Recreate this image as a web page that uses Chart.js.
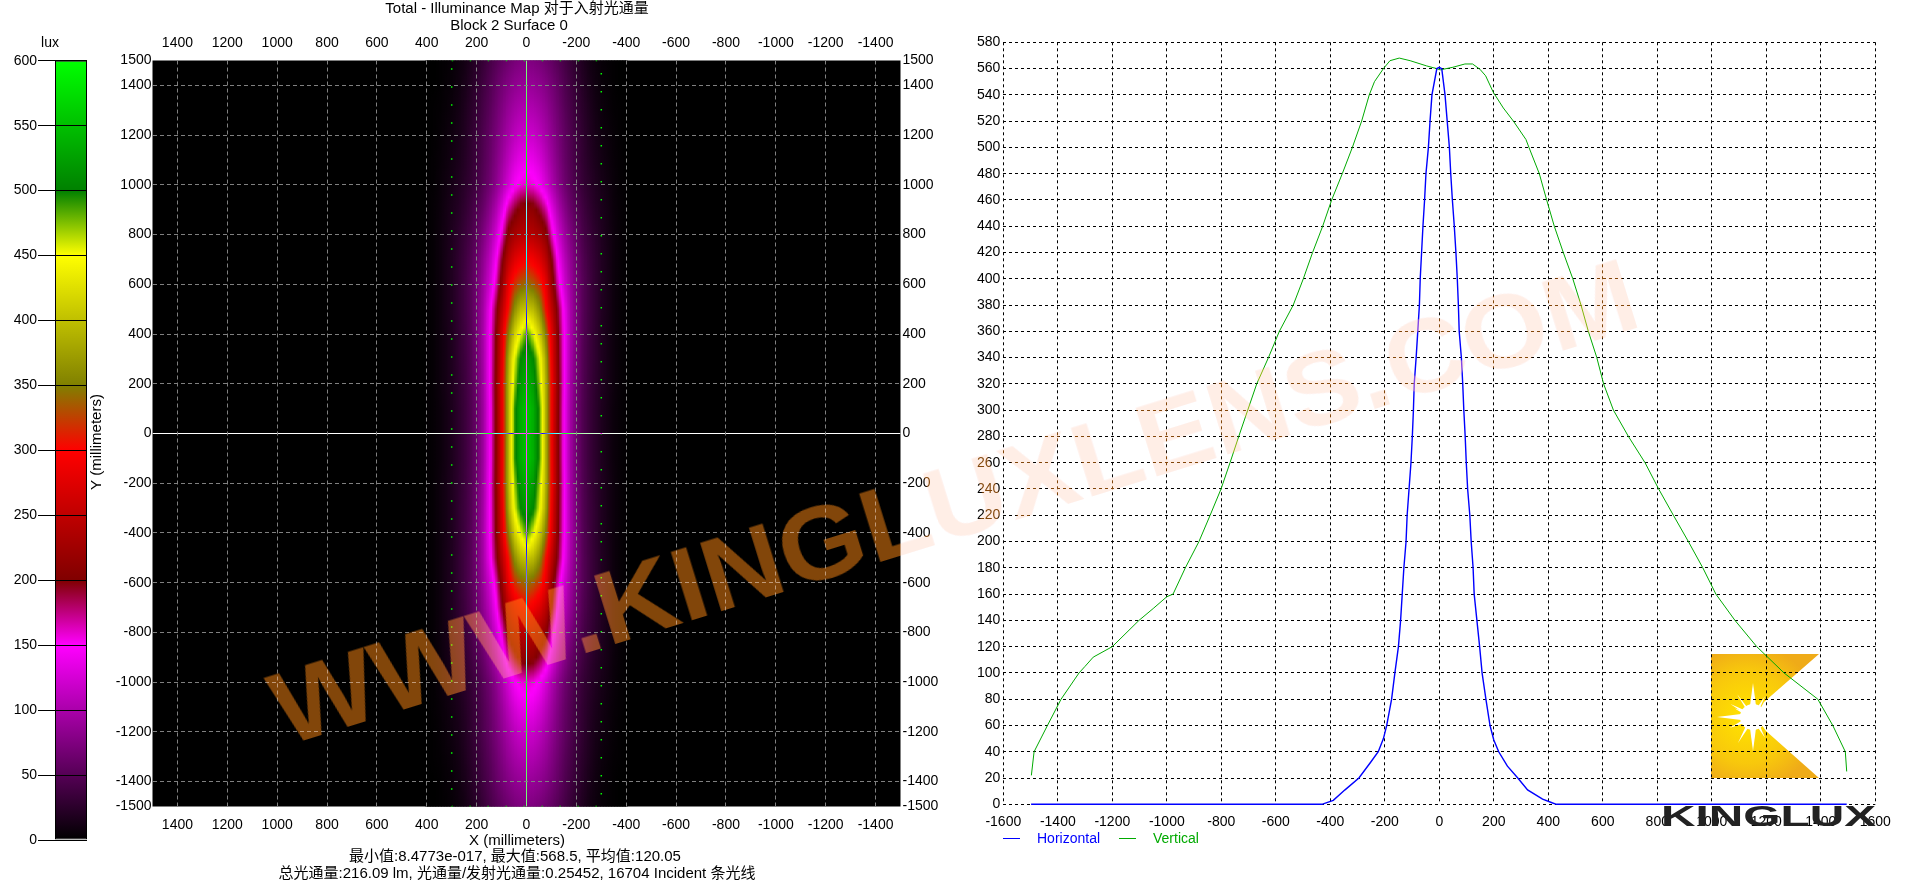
<!DOCTYPE html>
<html>
<head>
<meta charset="utf-8">
<title>Illuminance Map</title>
<script src="https://cdn.jsdelivr.net/npm/chart.js@4/dist/chart.umd.min.js"></script>
<style>
html, body { margin: 0; padding: 0; background: #fff; overflow: hidden; }
#page { position: relative; width: 1916px; height: 882px; background: #fff; isolation: isolate; overflow: hidden; }
#page canvas { position: absolute; left: 0; top: 0; }
.watermark {
    position: absolute; left: 954px; top: 502px; white-space: nowrap;
    font: bold 103px "Liberation Sans", sans-serif; line-height: 1;
    transform: translate(-50%, -50%) rotate(-17.2deg) scaleX(1.077);
}
#wmMultiply { color: rgb(255, 232, 229); mix-blend-mode: multiply; }
#wmScreen { color: rgb(130, 70, 10); mix-blend-mode: screen; }
</style>
</head>
<body>
<div id="page">
    <canvas id="legendBar" width="1916" height="882"></canvas>
    <canvas id="mapChart" width="1916" height="882"></canvas>
    <canvas id="lineChart" width="1916" height="882"></canvas>
    <div class="watermark" id="wmMultiply">WWW.KINGLUXLENS.COM</div>
    <div class="watermark" id="wmScreen">WWW.KINGLUXLENS.COM</div>
</div>
<script>
// colour scale (lux)
const scaleLux = [0, 150, 200, 300, 350, 450, 500, 600];
const scaleRgb = [[0,0,0], [255,0,255], [128,0,0], [255,0,0], [128,128,0], [255,255,0], [0,128,0], [0,255,0]];
const scaleTicks = [0, 50, 100, 150, 200, 250, 300, 350, 400, 450, 500, 550, 600];

// illuminance, one quadrant: rows = |Y|, columns = |X| (mm)
const heatX = [0, 25, 50, 75, 100, 125, 150, 175, 200, 225, 250, 275, 300, 325, 350, 375, 400];
const heatY = [0, 100, 200, 300, 400, 500, 600, 700, 800, 900, 1000, 1100, 1200, 1300, 1400, 1500];
const heatLux = [
    [555, 535, 490, 390, 285, 205, 142, 94, 64, 46, 34, 25, 17, 11, 6, 3, 1],
    [555, 536, 490, 390, 286, 206, 142, 94, 64, 46, 34, 25, 17, 11, 6, 3, 1],
    [540, 522, 470, 390, 288, 208, 145, 96, 66, 47, 35, 26, 18, 12, 7, 3, 1],
    [525, 505, 455, 380, 280, 204, 145, 98, 68, 48, 36, 27, 18, 12, 7, 3, 1],
    [490, 455, 412, 350, 272, 200, 145, 100, 70, 49, 37, 27, 18, 12, 7, 3, 1],
    [405, 395, 362, 305, 246, 190, 140, 98, 70, 50, 38, 28, 19, 13, 7, 3, 1],
    [345, 335, 318, 282, 218, 162, 122, 92, 67, 50, 38, 28, 19, 13, 7, 3, 1],
    [298, 290, 274, 246, 196, 144, 110, 85, 63, 47, 36, 27, 19, 13, 7, 3, 1],
    [245, 240, 230, 210, 160, 122, 95, 74, 56, 42, 33, 25, 18, 12, 7, 3, 1],
    [215, 210, 192, 170, 132, 102, 80, 62, 48, 37, 28, 21, 16, 11, 6, 3, 1],
    [160, 156, 145, 125, 102, 82, 65, 52, 40, 31, 24, 18, 13, 9, 5, 2, 1],
    [140, 136, 126, 110, 92, 75, 60, 48, 37, 28, 21, 15, 11, 7, 4, 2, 0],
    [120, 118, 110, 98, 84, 70, 57, 46, 36, 27, 19, 13, 9, 6, 3, 1, 0],
    [105, 103, 97, 88, 76, 64, 52, 42, 32, 24, 17, 11, 7, 4, 2, 1, 0],
    [90, 88, 84, 77, 68, 58, 47, 38, 29, 21, 14, 9, 5, 3, 1, 0, 0],
    [75, 74, 70, 64, 57, 49, 41, 32, 24, 17, 11, 7, 4, 2, 1, 0, 0]
];

const mapXTicks = [1400, 1200, 1000, 800, 600, 400, 200, 0, -200, -400, -600, -800, -1000, -1200, -1400];
const mapYTicks = [1500, 1400, 1200, 1000, 800, 600, 400, 200, 0, -200, -400, -600, -800, -1000, -1200, -1400, -1500];

// receiver outline and centre lines on the map
const boxX = [300, -300, -300, 300, 300];
const boxY = [1500, 1500, -1500, -1500, 1500];
const crossXLine = [0, 0];
const crossYLine = [-1500, 1500];

// profile curves
const horizontalX = [-1498, -431, -389, -346, -295, -252, -224, -205, -193, -175, -163, -150, -142, -130, -122, -118, -111, -104, -99, -95, -92, -85, -79, -73, -70, -65, -60, -54, -49, -40, -34, -27, -9, 0,
    9, 21, 29, 37, 42, 48, 55, 61, 66, 70, 73, 81, 86, 90, 95, 99, 104, 112, 117, 124, 128, 138, 148, 157, 171, 186, 200, 218, 250, 288, 324, 379, 416, 430, 1495];
const horizontalLux = [0, 0, 3, 11, 20, 32, 40, 50, 60, 80, 100, 120, 140, 180, 200, 220, 240, 260, 280, 300, 320, 340, 360, 380, 400, 420, 440, 460, 480, 500, 520, 540, 560, 561,
    560, 540, 520, 500, 480, 460, 440, 420, 400, 380, 360, 340, 320, 300, 280, 260, 240, 220, 200, 180, 160, 140, 120, 100, 80, 60, 49, 40, 29, 20, 11, 4, 1, 0, 0];
const verticalX = [-1497, -1487, -1438, -1388, -1322, -1300, -1270, -1200, -1102, -1050, -1000, -977, -932, -882, -841, -801, -768, -736, -703, -670, -627, -587, -536, -499, -465, -428, -395, -356, -319, -285, -257, -238, -205, -181, -147, -107, -46, -10, 3,
    50, 94, 122, 149, 170, 198, 235, 272, 318, 329, 367, 394, 422, 455, 490, 520, 547, 578, 603, 639, 694, 755, 805, 859, 914, 967, 1015, 1085, 1165, 1265, 1389, 1444, 1490, 1495];
const verticalLux = [22, 40, 60, 80, 100, 105, 112, 120, 140, 149, 158, 160, 180, 200, 220, 240, 260, 280, 300, 320, 340, 360, 380, 400, 420, 440, 460, 480, 500, 520, 540, 550, 560, 566, 568, 566, 562, 560, 559,
    561, 563.5, 563.5, 559.5, 554.5, 542, 530, 520, 506, 500, 480, 460, 440, 420, 400, 380, 360, 340, 320, 300, 280, 260, 240, 220, 200, 180, 160, 140, 120, 100, 80, 60, 40, 25];
const profileXTicks = [-1600, -1400, -1200, -1000, -800, -600, -400, -200, 0, 200, 400, 600, 800, 1000, 1200, 1400, 1600];
const seriesNames = ['Horizontal', 'Vertical'];

const FONT = '"Liberation Sans", "Noto Sans CJK SC", sans-serif';
const tickFont = { family: FONT, size: 14 };

Chart.defaults.color = '#000';
Chart.defaults.animation = false;
Chart.defaults.responsive = false;

const colorFor = (v) => {
    let i = 0;
    while (i < scaleLux.length - 2 && v > scaleLux[i + 1]) i++;
    const t = Math.min(1, Math.max(0, (v - scaleLux[i]) / (scaleLux[i + 1] - scaleLux[i])));
    const a = scaleRgb[i], b = scaleRgb[i + 1];
    return `rgb(${a.map((c, k) => Math.round(c + (b[k] - c) * t)).join(',')})`;
};

// shading between the sampled cells
const findCell = (list, v) => {
    let i = 0;
    while (i < list.length - 2 && v > list[i + 1]) i++;
    return [i, Math.min(1, (v - list[i]) / (list[i + 1] - list[i]))];
};
const shadeAt = (x, y) => {
    const [c, tx] = findCell(heatX, Math.abs(x));
    const [r, ty] = findCell(heatY, Math.abs(y));
    const top = heatLux[r][c] + (heatLux[r][c + 1] - heatLux[r][c]) * tx;
    const low = heatLux[r + 1][c] + (heatLux[r + 1][c + 1] - heatLux[r + 1][c]) * tx;
    return top + (low - top) * ty;
};

// axis boxes have a fixed size so the plot areas land where padding says
const boxWidth = (w) => (scale) => { scale.width = w; };
const boxHeight = (h) => (scale) => { scale.height = h; };
const fixedTicks = (list) => (scale) => { scale.ticks = list.map(value => ({ value })); };
const plainLabel = (v) => `${v}`;
// no grid line under the centre cross or on the plot edge
const mapGridColor = (ctx) => (ctx.tick && (ctx.tick.value === 0 || Math.abs(ctx.tick.value) === 1500)) ? 'transparent' : '#808080';

// ---- colour bar ----
new Chart(document.getElementById('legendBar'), {
    type: 'bar',
    data: {
        labels: ['lux'],
        datasets: [{
            data: [[0, 600]],
            borderColor: '#000',
            borderWidth: 1,
            borderSkipped: false,
            barPercentage: 1,
            categoryPercentage: 1,
            inflateAmount: 0,
            backgroundColor: (ctx) => {
                const sy = ctx.chart.scales.y;
                const y0 = sy.getPixelForValue(0), y1 = sy.getPixelForValue(600);
                if (!isFinite(y0) || !isFinite(y1)) return '#000';
                const g = ctx.chart.ctx.createLinearGradient(0, y0, 0, y1);
                scaleLux.forEach(v => g.addColorStop(v / 600, colorFor(v)));
                return g;
            }
        }]
    },
    options: {
        layout: { padding: { left: 0, top: 60.7, right: 1829, bottom: 42 } },
        plugins: {
            legend: { display: false },
            tooltip: { enabled: false }
        },
        scales: {
            x: { display: false },
            y: {
                min: 0, max: 600,
                afterFit: boxWidth(55),
                afterBuildTicks: fixedTicks(scaleTicks),
                border: { display: false },
                grid: { color: '#000', z: 1, tickLength: 17, tickColor: '#000' },
                ticks: { font: tickFont, padding: 1, autoSkip: false, callback: plainLabel }
            }
        }
    },
    plugins: [{
        id: 'luxCaption',
        afterDraw(chart) {
            const c = chart.ctx;
            c.save();
            c.font = `14px ${FONT}`;
            c.fillStyle = '#000';
            c.textAlign = 'center';
            c.textBaseline = 'middle';
            c.fillText('lux', 50, 43);
            c.restore();
        }
    }]
});

// ---- illuminance map ----
const shadeColumns = [];
for (let x = -400; x <= 400; x += 6.25) shadeColumns.push(x);

const mapCaptions = [
    ['Total - Illuminance Map 对于入射光通量', 517, 9],
    ['Block 2 Surface 0', 509, 26],
    ['X (millimeters)', 517, 841],
    ['最小值:8.4773e-017, 最大值:568.5, 平均值:120.05', 515, 857],
    ['总光通量:216.09 lm, 光通量/发射光通量:0.25452, 16704 Incident 条光线', 517, 874]
];

new Chart(document.getElementById('mapChart'), {
    type: 'bar',
    data: {
        datasets: [
            {
                type: 'line', blend: true, data: crossXLine.map((x, i) => ({ x, y: crossYLine[i] })),
                borderColor: '#fff', borderWidth: 1, pointRadius: 0, order: 0
            },
            {
                type: 'line', blend: true, data: crossYLine.map((x, i) => ({ x, y: crossXLine[i] })),
                borderColor: '#fff', borderWidth: 1, pointRadius: 0, order: 0
            },
            {
                type: 'line', data: boxX.map((x, i) => ({ x, y: boxY[i] })),
                borderColor: '#00ff00', borderWidth: 1.5, borderDash: [1.5, 16.5], pointRadius: 0, order: 1
            },
            {
                type: 'bar', order: 2,
                data: shadeColumns.map(x => ({ x, y: [-1500, 1500] })),
                barPercentage: 1, categoryPercentage: 1, grouped: false,
                borderWidth: 0, inflateAmount: 0.6,
                backgroundColor: (ctx) => {
                    const raw = ctx.raw;
                    if (!raw) return '#000';
                    const sy = ctx.chart.scales.y;
                    const y0 = sy.getPixelForValue(1500), y1 = sy.getPixelForValue(-1500);
                    if (!isFinite(y0) || !isFinite(y1)) return '#000';
                    const g = ctx.chart.ctx.createLinearGradient(0, y0, 0, y1);
                    for (let y = 1500; y >= -1500; y -= 25) g.addColorStop((1500 - y) / 3000, colorFor(shadeAt(raw.x, y)));
                    return g;
                }
            }
        ]
    },
    options: {
        layout: { padding: { left: 92.5, top: 30.5, right: 975.5, bottom: 45.5 } },
        plugins: {
            legend: { display: false },
            tooltip: { enabled: false }
        },
        scales: {
            x: {
                type: 'linear', position: 'bottom', reverse: true, min: -1500, max: 1500, offset: false,
                afterFit: boxHeight(30), afterBuildTicks: fixedTicks(mapXTicks),
                border: { display: false, dash: [4, 3] },
                grid: { color: mapGridColor, offset: false, z: 1, drawTicks: false },
                ticks: { font: tickFont, padding: 10, maxRotation: 0, autoSkip: false, callback: plainLabel }
            },
            xTop: {
                type: 'linear', axis: 'x', position: 'top', reverse: true, min: -1500, max: 1500, offset: false,
                afterFit: boxHeight(30), afterBuildTicks: fixedTicks(mapXTicks),
                border: { display: false },
                grid: { display: false, offset: false, drawTicks: false },
                ticks: { font: tickFont, padding: 9, maxRotation: 0, autoSkip: false, callback: plainLabel }
            },
            y: {
                type: 'linear', position: 'left', min: -1500, max: 1500,
                afterFit: boxWidth(60), afterBuildTicks: fixedTicks(mapYTicks),
                border: { display: false, dash: [4, 3] },
                grid: { color: mapGridColor, z: 1, drawTicks: false },
                ticks: { font: tickFont, padding: 1, autoSkip: false, callback: plainLabel }
            },
            yRight: {
                type: 'linear', axis: 'y', position: 'right', min: -1500, max: 1500,
                afterFit: boxWidth(40), afterBuildTicks: fixedTicks(mapYTicks),
                border: { display: false },
                grid: { display: false, drawTicks: false },
                ticks: { font: tickFont, padding: 2, autoSkip: false, callback: plainLabel }
            }
        }
    },
    plugins: [{
        id: 'mapDecor',
        beforeDraw(chart) {
            const { ctx: c, chartArea: a } = chart;
            c.fillStyle = '#000';
            c.fillRect(a.left, a.top, a.width, a.height);
        },
        beforeDatasetDraw(chart, args) {
            if (chart.data.datasets[args.index].blend) {
                chart.ctx.save();
                chart.ctx.globalCompositeOperation = 'difference';
            }
        },
        afterDatasetDraw(chart, args) {
            if (chart.data.datasets[args.index].blend) chart.ctx.restore();
        },
        afterDraw(chart) {
            const c = chart.ctx;
            c.save();
            c.font = `15px ${FONT}`;
            c.fillStyle = '#000';
            c.textAlign = 'center';
            c.textBaseline = 'middle';
            mapCaptions.forEach(([text, x, y]) => c.fillText(text, x, y));
            c.translate(97, 442);
            c.rotate(-Math.PI / 2);
            c.fillText('Y (millimeters)', 0, 0);
            c.restore();
        }
    }]
});

// ---- profile curves ----
const drawLogo = (c) => {
    c.save();
    const grad = c.createRadialGradient(1748, 717, 8, 1748, 717, 72);
    grad.addColorStop(0, '#ffe000');
    grad.addColorStop(0.6, '#f8c80c');
    grad.addColorStop(1, '#efab18');
    c.fillStyle = grad;
    c.beginPath();
    c.moveTo(1711, 654);
    c.lineTo(1819, 654);
    c.lineTo(1764, 702);
    c.lineTo(1756, 717);
    c.lineTo(1766, 731);
    c.lineTo(1819, 778);
    c.lineTo(1711, 778);
    c.closePath();
    c.fill();
    // sun rays
    c.fillStyle = '#fff';
    const rays = [[180, 36], [150, 26], [205, 26], [90, 34], [125, 28], [60, 24], [270, 34], [240, 30], [300, 24], [335, 22], [25, 22], [155, 20]];
    rays.forEach(([deg, len]) => {
        const r = deg * Math.PI / 180;
        const nx = -Math.sin(r) * 4.5, ny = Math.cos(r) * 4.5;
        c.beginPath();
        c.moveTo(1753 + nx, 717 + ny);
        c.lineTo(1753 + Math.cos(r) * len, 717 - Math.sin(r) * len);
        c.lineTo(1753 - nx, 717 - ny);
        c.closePath();
        c.fill();
    });
    c.beginPath();
    c.arc(1753, 717, 13, 0, Math.PI * 2);
    c.fill();
    c.restore();
};

new Chart(document.getElementById('lineChart'), {
    type: 'line',
    data: {
        datasets: [
            {
                label: seriesNames[0],
                data: horizontalX.map((x, i) => ({ x, y: horizontalLux[i] })),
                borderColor: '#0000ff', borderWidth: 1.4, pointRadius: 0, tension: 0, clip: false
            },
            {
                label: seriesNames[1],
                data: verticalX.map((x, i) => ({ x, y: verticalLux[i] })),
                borderColor: '#00aa00', borderWidth: 1, pointRadius: 0, tension: 0
            }
        ]
    },
    options: {
        layout: { padding: { left: 953.3, top: 42.3, right: 40.7, bottom: 47.7 } },
        plugins: {
            legend: { display: false },
            tooltip: { enabled: false }
        },
        scales: {
            x: {
                type: 'linear', min: -1600, max: 1600,
                afterFit: boxHeight(30), afterBuildTicks: fixedTicks(profileXTicks),
                border: { display: false, dash: [3, 3] },
                grid: { color: '#000', drawTicks: false },
                ticks: { font: tickFont, padding: 9, maxRotation: 0, autoSkip: false, callback: plainLabel }
            },
            y: {
                min: 0, max: 580,
                afterFit: boxWidth(50),
                border: { display: false, dash: [3, 3] },
                grid: { color: '#000', drawTicks: false },
                ticks: { font: tickFont, padding: 3, stepSize: 20, autoSkip: false, callback: plainLabel }
            }
        }
    },
    plugins: [{
        id: 'profileDecor',
        beforeDraw(chart) {
            drawLogo(chart.ctx);
        },
        afterDraw(chart) {
            const c = chart.ctx;
            c.save();
            // legend row under the axis
            c.font = `14px ${FONT}`;
            c.textBaseline = 'middle';
            c.lineWidth = 1;
            chart.data.datasets.forEach((ds, i) => {
                const x = i === 0 ? 1003 : 1119;
                c.strokeStyle = ds.borderColor;
                c.beginPath();
                c.moveTo(x, 838.5);
                c.lineTo(x + 17, 838.5);
                c.stroke();
                c.fillStyle = ds.borderColor;
                c.fillText(ds.label, i === 0 ? 1037 : 1153, 839);
            });
            // company name over the corner of the axis
            c.font = `bold 29px ${FONT}`;
            c.fillStyle = '#222';
            c.textBaseline = 'alphabetic';
            const w = c.measureText('KINGLUX').width;
            c.translate(1661, 826);
            c.scale(215 / w, 1);
            c.fillText('KINGLUX', 0, 0);
            c.restore();
        }
    }]
});
</script>
</body>
</html>
